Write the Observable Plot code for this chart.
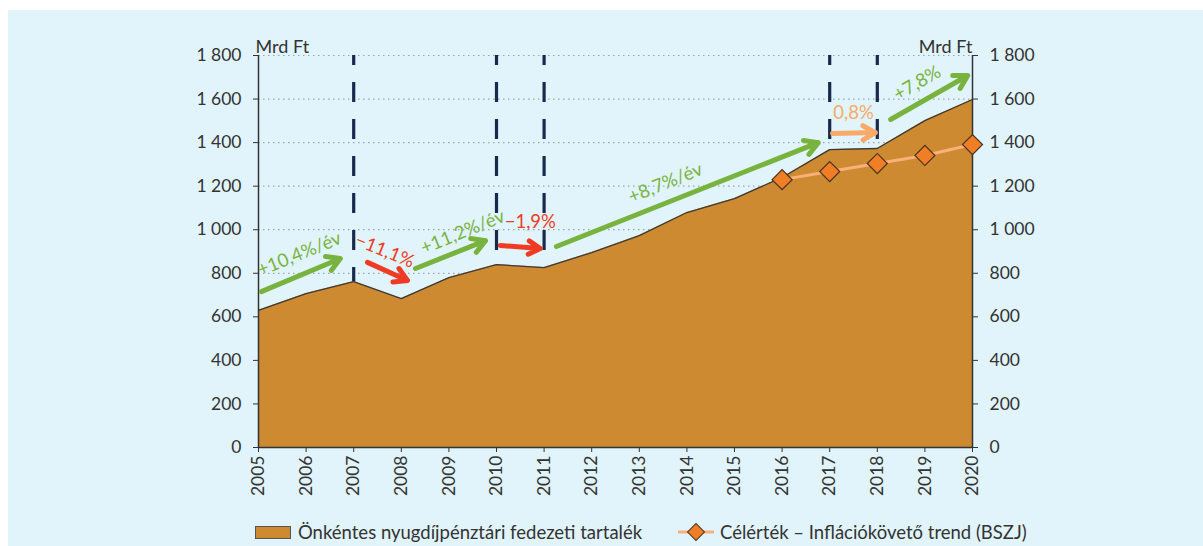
<!DOCTYPE html>
<html><head><meta charset="utf-8">
<script src="https://cdn.jsdelivr.net/npm/d3@7"></script>
<script src="https://cdn.jsdelivr.net/npm/@observablehq/plot@0.6"></script>
<style>
body{margin:0;background:#fff;font-family:Lato,"Open Sans",sans-serif;}
#frame{position:absolute;left:8px;top:10px;width:1195px;height:536px;background:#e1f4fb;overflow:hidden;}
#chart{position:absolute;left:0;top:0;}
.leg{position:absolute;top:511px;height:22px;display:flex;align-items:center;font-size:18.5px;color:#333;white-space:nowrap;}
.sw{display:inline-block;width:34px;height:11px;background:#cd8a30;border:1px solid #555;margin-right:7px;}
</style></head>
<body>
<div id="frame">
  <div id="chart"></div>
  <div class="leg" style="left:247px"><span class="sw"></span><span>Önkéntes nyugdíjpénztári fedezeti tartalék</span></div>
  <div class="leg" style="left:670px"><svg width="36" height="20" style="margin-right:6px"><line x1="0" y1="10" x2="36" y2="10" stroke="#f9b07a" stroke-width="3"/><rect x="12" y="4" width="12" height="12" transform="rotate(45 18 10)" fill="#f07e26" stroke="#4a3420" stroke-width="1"/></svg><span>Célérték – Inflációkövető trend (BSZJ)</span></div>
</div>
<script>
// ---- data ----
const years = [2005,2006,2007,2008,2009,2010,2011,2012,2013,2014,2015,2016,2017,2018,2019,2020];
const reserve = [630,707,762,684,780,840,826,895,973,1079,1143,1240,1368,1373,1501,1598];
const trendYears = [2016,2017,2018,2019,2020];
const trend = [1230,1267,1304,1341,1391];
const breakYears = [2007,2010,2011,2017,2018];
const yTicks = [0,200,400,600,800,1000,1200,1400,1600,1800];
const unitLabel = "Mrd Ft";
// growth annotations (data coordinates)
const arrowKind = ["up","down","up","down","up","flat","up"];
const arrowX1 = [2005.06,2007.29,2008.30,2010.08,2011.26,2017.06,2018.28];
const arrowY1 = [716,850,822,928,923,1442,1506];
const arrowX2 = [2006.72,2008.13,2009.77,2010.92,2016.76,2017.96,2019.90];
const arrowY2 = [868,767,950,914,1400,1446,1708];
const labelText = ["+10,4%/év","−11,1%","+11,2%/év","−1,9%","+8,7%/év","0,8%","+7,8%"];
const labelX = [2005.86,2007.65,2009.29,2010.71,2013.55,2017.5,2018.84];
const labelY = [888,903,989,1035,1214,1534,1673];
const labelAngle = [-22,22,-22,0,-22,0,-30];

const kindColor = {up:"#79b33f", down:"#ef3a24", flat:"#f8aa6a"};
const reserveData = years.map((year,i)=>({year, value:reserve[i]}));
const trendData = trendYears.map((year,i)=>({year, value:trend[i]}));
const arrows = arrowKind.map((k,i)=>({k, x1:arrowX1[i], y1:arrowY1[i], x2:arrowX2[i], y2:arrowY2[i]}));
const labels = labelText.map((t,i)=>({t, k:arrowKind[i], x:labelX[i], y:labelY[i], a:labelAngle[i]}));
const fmt = d => d3.format(",")(d).replace(",", " ");

const chart = Plot.plot({
  width:1195, height:500,
  marginLeft:250, marginRight:231, marginTop:45, marginBottom:63,
  style:{background:"transparent", fontFamily:"Lato, 'Open Sans', sans-serif", fontSize:"17.5px", color:"#333"},
  x:{domain:[2005,2020], label:null},
  y:{domain:[0,1800], label:null},
  marks:[
    Plot.ruleY(yTicks.filter(d=>d>0), {stroke:"#9aa5ab", strokeWidth:1.2, strokeDasharray:"1.5,3.5"}),
    Plot.ruleX(breakYears, {y1:1800, y2:0, stroke:"#17294d", strokeWidth:3.2, strokeDasharray:"20,17", strokeDashoffset:10}),
    Plot.areaY(reserveData, {x:"year", y:"value", fill:"#cd8a30"}),
    Plot.lineY(reserveData, {x:"year", y:"value", stroke:"#3b3b3b", strokeWidth:1.3}),
    Plot.ruleX([2005,2020], {y1:0, y2:1800, stroke:"#333", strokeWidth:1.5}),
    Plot.ruleY([0], {stroke:"#333", strokeWidth:1.5}),
    Plot.axisY({anchor:"left", ticks:yTicks, tickSize:5, tickPadding:12, tickFormat:fmt, label:null}),
    Plot.axisY({anchor:"right", ticks:yTicks, tickSize:5, tickPadding:12, tickFormat:fmt, label:null}),
    Plot.axisX({ticks:years, tickRotate:-90, tickSize:5, tickPadding:3, tickFormat:d=>String(d), label:null}),
    Plot.lineY(trendData, {x:"year", y:"value", stroke:"#f9b07a", strokeWidth:3}),
    Plot.dot(trendData, {x:"year", y:"value", symbol:"square", rotate:45, r:8, fill:"#f07e26", stroke:"#4a3420", strokeWidth:1.2}),
    Plot.arrow(arrows, {x1:"x1", y1:"y1", x2:"x2", y2:"y2", stroke:d=>kindColor[d.k], strokeWidth:5, headLength:4.5}),
    Plot.text(labels, {x:"x", y:"y", text:"t", rotate:"a", fill:d=>kindColor[d.k], fontSize:18.5}),
    Plot.text([unitLabel], {frameAnchor:"top-left", textAnchor:"start", dx:-3, dy:-15, fill:"#333", fontSize:18}),
    Plot.text([unitLabel], {frameAnchor:"top-right", textAnchor:"end", dx:0, dy:-15, fill:"#333", fontSize:18})
  ]
});
document.getElementById("chart").appendChild(chart);
</script>
</body></html>
